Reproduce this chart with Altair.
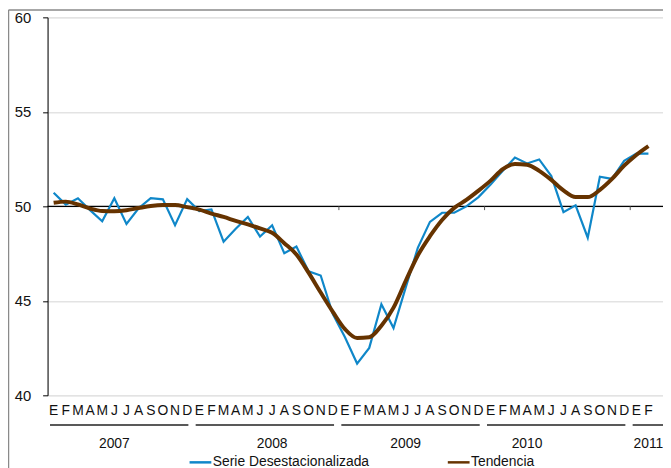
import altair as alt
import pandas as pd

# ---------------- data ----------------
months = ["E", "F", "M", "A", "M", "J", "J", "A", "S", "O", "N", "D"]
years = ["2007", "2008", "2009", "2010", "2011"]
year_label_month = [5, 18, 29, 39, 49]   # month under which each year label sits

serie_name = "Serie Desestacionalizada"
tend_name = "Tendencia"

serie = [
    50.72, 50.09, 50.43, 49.80, 49.21, 50.43, 49.07, 49.90, 50.43, 50.37, 49.00, 50.38,
    49.75, 49.84, 48.13, 48.81, 49.44, 48.40, 49.00, 47.52, 47.87, 46.56, 46.34, 44.30,
    43.07, 41.68, 42.51, 44.82, 43.56, 45.70, 47.80, 49.18, 49.66, 49.66, 50.00, 50.49,
    51.15, 51.88, 52.58, 52.27, 52.48, 51.60, 49.69, 50.05, 48.34, 51.57, 51.45, 52.41,
    52.79, 52.79,
]
tendencia = [
    50.19, 50.25, 50.10, 49.88, 49.75, 49.74, 49.79, 49.91, 50.02, 50.07, 50.07, 49.96,
    49.83, 49.62, 49.44, 49.23, 49.04, 48.83, 48.60, 48.05, 47.45, 46.49, 45.44, 44.42,
    43.50, 43.03, 43.07, 43.68, 44.64, 46.05, 47.40, 48.42, 49.28, 49.92, 50.34, 50.83,
    51.36, 51.97, 52.24, 52.20, 51.88, 51.40, 50.84, 50.49, 50.49, 50.87, 51.45, 52.15,
    52.72, 53.19,
]

n = len(serie)
X_MAX = 50.2
FONT = "Liberation Sans"
BLUE = "#0F87C9"
BROWN = "#663300"

df = pd.DataFrame(
    {"idx": list(range(n)) * 2,
     "valor": serie + tendencia,
     "serie": [serie_name] * n + [tend_name] * n}
)
months_df = pd.DataFrame({"idx": list(range(n)),
                          "mes": [months[i % 12] for i in range(n)]})

year_rows = []
for i, y in enumerate(years):
    first = 12 * i
    last = min(12 * i + 11, n - 1)
    year_rows.append({
        "year": y,
        "x1": first - 0.3,
        "x2": (last + 0.1) if i < len(years) - 1 else X_MAX,
        "lab": year_label_month[i],
    })
years_df = pd.DataFrame(year_rows)
bounds_df = pd.DataFrame({"b": [12 * i - 0.5 for i in range(1, len(years))]})

x_scale = alt.Scale(domain=[-0.5, X_MAX], nice=False, zero=False)
y_scale = alt.Scale(domain=[40, 60], nice=False, zero=False)
color_scale = alt.Scale(domain=[serie_name, tend_name], range=[BLUE, BROWN])

x_axis = alt.Axis(labels=False, ticks=False, domain=False, grid=False)

legend = alt.Legend(
    title=None, orient="none", legendX=142, legendY=437,
    direction="horizontal", columns=2, columnPadding=74,
    symbolType="stroke", symbolSize=484, symbolStrokeWidth=2.5,
    labelFont=FONT, labelFontSize=14, labelColor="#111111", labelOffset=0,
)

base = alt.Chart(df).encode(
    x=alt.X("idx:Q", scale=x_scale, title=None, axis=x_axis),
    y=alt.Y("valor:Q", scale=y_scale, title=None,
            axis=alt.Axis(values=[40, 45, 50, 55, 60], grid=True,
                          gridColor="#e3e3e3", gridWidth=1.5,
                          domainColor="#000000", tickColor="#000000", tickSize=5,
                          labelFont=FONT, labelFontSize=15, labelColor="#111111",
                          labelPadding=12)),
    color=alt.Color("serie:N", scale=color_scale, legend=legend),
)

blue_line = base.transform_filter(alt.datum.serie == serie_name).mark_line(
    strokeWidth=2.2, interpolate="linear")
brown_line = base.transform_filter(alt.datum.serie == tend_name).mark_line(
    strokeWidth=4, interpolate="monotone")

fifty = alt.Chart(pd.DataFrame({"v": [50]})).mark_rule(
    color="#000000", strokeWidth=1.2).encode(y=alt.Y("v:Q", scale=y_scale, title=None))

year_ticks = alt.Chart(bounds_df).mark_rule(color="#555555", strokeWidth=1).encode(
    x=alt.X("b:Q", scale=x_scale, title=None, axis=x_axis),
    y=alt.datum(50), y2=alt.datum(49.8),
)

month_text = alt.Chart(months_df).mark_text(
    font=FONT, fontSize=14, color="#111111", baseline="middle", align="center"
).encode(x=alt.X("idx:Q", scale=x_scale, title=None, axis=x_axis),
         y=alt.value(398), text="mes:N")

year_lines = alt.Chart(years_df).mark_rule(color="#222222", strokeWidth=1.5).encode(
    x=alt.X("x1:Q", scale=x_scale, title=None, axis=x_axis), x2="x2:Q",
    y=alt.value(412),
)
year_text = alt.Chart(years_df).mark_text(
    font=FONT, fontSize=14, color="#111111", baseline="middle", align="center"
).encode(x=alt.X("lab:Q", scale=x_scale, title=None, axis=x_axis),
         y=alt.value(431), text="year:N")

border = alt.Chart(pd.DataFrame({"k": [0]})).mark_rule(
    color="#8a8a8a", strokeWidth=1.5)
border_left = border.encode(x=alt.value(-39.5), y=alt.value(-7.5), y2=alt.value(460))
border_top = border.encode(x=alt.value(-39.5), x2=alt.value(622), y=alt.value(-7.5))

chart = alt.layer(
    base.mark_line(opacity=0), fifty, year_ticks, blue_line, brown_line,
    month_text, year_lines, year_text, border_left, border_top,
).properties(
    width=622, height=382,
    autosize=alt.AutoSizeParams(type="none"),
    padding={"left": 40, "top": 7, "right": 0, "bottom": 71},
).configure_view(stroke=None).configure(background="white")

chart.save("out.html", embed_options={"renderer": "svg", "actions": False})
